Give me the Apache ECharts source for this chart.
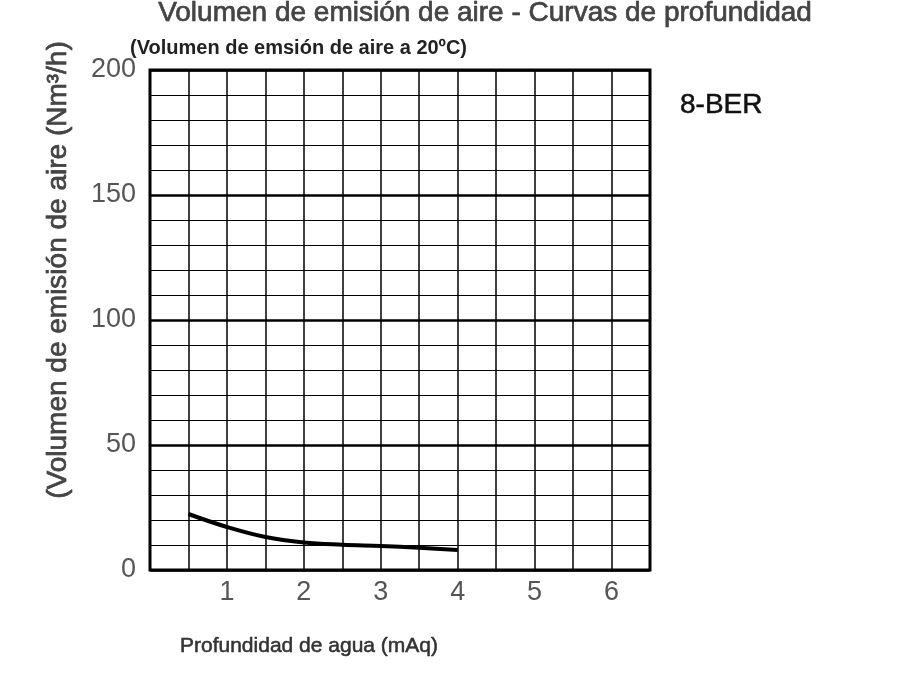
<!DOCTYPE html>
<html><head><meta charset="utf-8">
<script src="https://cdn.jsdelivr.net/npm/echarts@6/dist/echarts.min.js"></script>
<style>html,body{margin:0;padding:0;background:#fff}#c{width:900px;height:700px}</style>
</head><body><div id="c"></div>
<script>
const depth = [0.5, 1, 1.5, 2, 2.5, 3, 3.5, 4];
const airVolume = [22.4, 17.2, 13.2, 11, 10.1, 9.6, 8.9, 8];
const xTickLabels = ['1','2','3','4','5','6'];
const yTickLabels = ['0','50','100','150','200'];
const modelName = '8-BER';

const chart = echarts.init(document.getElementById('c'));
const font = '"Liberation Sans", Arial, sans-serif';
chart.setOption({
  animation: false,
  backgroundColor: '#fff',
  title: [
    {text: 'Volumen de emisión de aire - Curvas de profundidad', left: 480, top: -6, textAlign: 'center',
     textStyle: {fontFamily: font, fontSize: 28, fontWeight: 'normal', color: '#444', textBorderColor: '#222', textBorderWidth: 0.6}},
    {text: '(Volumen de emsión de aire a 20ºC)', left: 125, top: 33,
     textStyle: {fontFamily: font, fontSize: 20, fontWeight: 'bold', color: '#222', letterSpacing: -0.3}},
    {text: modelName, left: 675, top: 86,
     textStyle: {fontFamily: font, fontSize: 28, fontWeight: 'normal', color: '#111', textBorderColor: '#111', textBorderWidth: 0.5}},
    {text: 'Profundidad de agua (mAq)', left: 175, top: 631,
     textStyle: {fontFamily: font, fontSize: 21, fontWeight: 'normal', color: '#333', textBorderColor: '#222', textBorderWidth: 0.5, letterSpacing: -0.4}}
  ],
  graphic: [{
    type: 'text', x: 58, y: 270, rotation: Math.PI / 2, originX: 0, originY: 0,
    style: {text: '(Volumen de emisión de aire (Nm³/h)', font: '28px "Liberation Sans", Arial, sans-serif',
      fill: '#444', stroke: '#222', lineWidth: 0.6, textAlign: 'center', textVerticalAlign: 'middle'}
  }],
  grid: {left: 150, top: 70, width: 500, height: 500, show: true, borderColor: '#000', borderWidth: 3, backgroundColor: 'transparent'},
  xAxis: {
    type: 'value', min: 0, max: 6.5, interval: 0.5,
    axisLine: {show: false}, axisTick: {show: false},
    axisLabel: {margin: 9, fontFamily: font, fontSize: 27, color: '#555',
      formatter: v => (xTickLabels.indexOf(String(v)) >= 0 ? String(v) : '')},
    splitLine: {show: true, lineStyle: {color: '#000', width: 1.5}}
  },
  yAxis: {
    type: 'value', min: 0, max: 200, interval: 50,
    axisLine: {show: false}, axisTick: {show: false},
    axisLabel: {margin: 14, fontFamily: font, fontSize: 27, color: '#555',
      formatter: v => (yTickLabels.indexOf(String(v)) >= 0 ? String(v) : '')},
    splitLine: {show: true, lineStyle: {color: '#000', width: 2.5}},
    minorTick: {show: false, splitNumber: 5},
    minorSplitLine: {show: true, lineStyle: {color: '#000', width: 1.2}}
  },
  series: [{
    type: 'line', data: depth.map((d, i) => [d, airVolume[i]]), smooth: 0.4,
    symbol: 'none', lineStyle: {color: '#000', width: 4}, z: 5
  }]
});
</script></body></html>
